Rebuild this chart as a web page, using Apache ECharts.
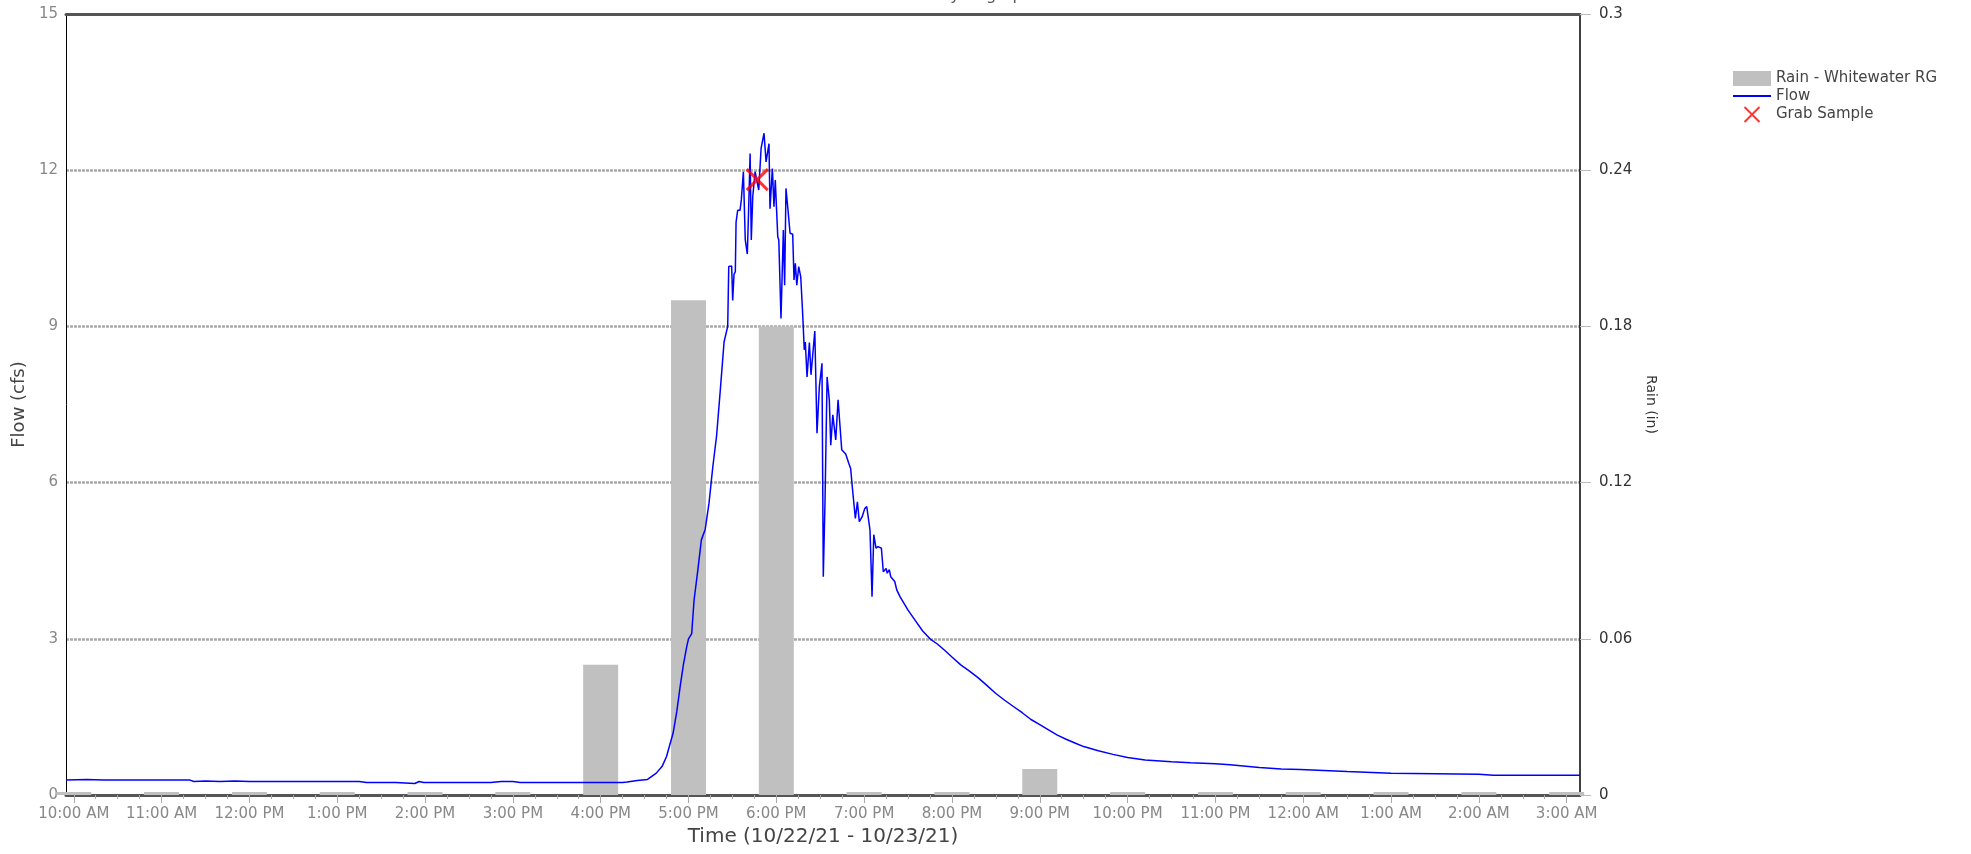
<!DOCTYPE html>
<html><head><meta charset="utf-8">
<script src="https://cdn.jsdelivr.net/npm/echarts@6/dist/echarts.min.js"></script>
<style>html,body{margin:0;padding:0;background:#fff}#c{width:1971px;height:854px}</style>
</head><body><div id="c"></div>
<script>
// Minutes after 10:00 AM on 10/22/21
const flowMinutes = [-5.3,9,20,40,60,79,82,90,100,110,120,130,150,170,195,200,220,233,236,239,250,270,285,292,300,305,330,360,375,378,385,392,398,402,405,409.5,412,414.3,416.5,418.8,420,422.2,423.8,426.3,428.8,431.4,434,436.6,439.2,441.8,444.3,446.8,447.5,449.5,450.2,451.1,452,452.5,453.6,455.2,456.1,457.5,458.2,458.8,460.2,461.2,462.1,462.9,463.9,465.5,466.6,468,469.6,471.6,473,475,475.7,477.3,478.4,479.3,481,481.7,483.2,484.8,485.7,486.6,488,489.4,491.2,492.1,493,494,495.3,496.7,498,499.1,499.8,501,502.6,503.7,506.3,507.8,509.4,511.2,512.1,513.3,514.7,516.2,517.2,518.6,520.6,522.2,524.7,527.4,529.5,530.8,531.9,534,535.4,536.7,538.6,540.4,541.8,544,545.4,546.6,548.1,549.5,551.8,553.1,555,555.8,557.2,558.2,559.5,560.9,562.3,564.5,570,575,580,585,590,595,600,606,612,618,624,630,636,642,648,654,660,666,672,678,684,690,700,710,720,732,750,763,780,790,810,825,838,870,900,930,960,970,1029.1];
const flowCfs = [0.29,0.30,0.29,0.29,0.29,0.29,0.26,0.27,0.26,0.27,0.26,0.26,0.26,0.26,0.26,0.24,0.24,0.22,0.26,0.24,0.24,0.24,0.24,0.26,0.26,0.24,0.24,0.24,0.24,0.25,0.28,0.30,0.42,0.55,0.74,1.19,1.6,2.08,2.5,2.85,3.0,3.1,3.74,4.3,4.9,5.1,5.6,6.3,6.9,7.8,8.7,9.0,10.15,10.16,9.5,10.0,10.05,11.0,11.23,11.23,11.43,11.97,11.97,10.66,10.39,11.36,12.32,10.66,11.49,11.97,11.94,11.62,12.42,12.71,12.16,12.51,11.26,12.03,11.3,11.81,10.72,10.66,9.15,10.85,9.79,11.65,11.23,10.79,10.77,9.89,10.21,9.79,10.15,9.95,9.25,8.55,8.7,8.03,8.69,8.07,8.91,6.95,7.84,8.29,4.19,5.67,8.03,7.59,6.72,7.3,6.82,7.59,6.63,6.55,6.37,6.27,5.92,5.31,5.63,5.25,5.34,5.5,5.54,5.09,3.81,5.0,4.74,4.77,4.74,4.29,4.35,4.26,4.33,4.19,4.22,4.1,3.94,3.81,3.55,3.35,3.15,3.0,2.9,2.78,2.65,2.5,2.38,2.25,2.1,1.95,1.82,1.7,1.58,1.45,1.35,1.25,1.15,1.07,1.0,0.93,0.85,0.78,0.72,0.67,0.64,0.62,0.6,0.58,0.53,0.5,0.49,0.45,0.42,0.41,0.40,0.38,0.38];
const rainMinutes = [0,60,120,180,240,300,360,420,480,540,600,660,720,780,840,900,960,1020];
const rainInches = [0,0,0,0,0,0,0.05,0.19,0.18,0,0,0.01,0,0,0,0,0,0];
const grabMinutes = [467];
const grabCfs = [11.82];
const xTickMinutes = [0,60,120,180,240,300,360,420,480,540,600,660,720,780,840,900,960,1020];
const xTickLabels = ['10:00 AM','11:00 AM','12:00 PM','1:00 PM','2:00 PM','3:00 PM','4:00 PM','5:00 PM','6:00 PM','7:00 PM','8:00 PM','9:00 PM','10:00 PM','11:00 PM','12:00 AM','1:00 AM','2:00 AM','3:00 AM'];
const titleText = 'Hydrograph';

const xMin = -5.3, xMax = 1029.1;
const minorTicks = [];
xTickMinutes.forEach(m => { [15,30,45].forEach(d => { if (m + d < xMax) minorTicks.push(m + d); }); });

const FONT = 'DejaVu Sans';
const chart = echarts.init(document.getElementById('c'), null, {renderer: 'canvas'});
chart.setOption({
  animation: false,
  textStyle: {fontFamily: FONT},
  title: {text: titleText, left: 'center', top: -17, textStyle: {fontFamily: FONT, fontSize: 16, fontWeight: 'normal', color: '#555'}},
  grid: {left: 66, right: 391, top: 14, bottom: 59, containLabel: false},
  legend: {
    orient: 'vertical', left: 1728, top: 66, itemWidth: 38, itemHeight: 15, itemGap: 2.5,
    textStyle: {fontFamily: FONT, fontSize: 15, color: '#444'},
    data: [
      {name: 'Rain - Whitewater RG', icon: 'rect'},
      {name: 'Flow', icon: 'path://M0,0L38,0L38,2L0,2Z'},
      {name: 'Grab Sample'}
    ]
  },
  xAxis: [
    {
      type: 'value', min: xMin, max: xMax, position: 'bottom',
      name: 'Time (10/22/21 - 10/23/21)', nameLocation: 'middle', nameGap: 32,
      nameTextStyle: {fontFamily: FONT, fontSize: 20, color: '#444'},
      axisLine: {show: true, onZero: false, lineStyle: {color: '#555', width: 3}},
      axisTick: {show: true, customValues: xTickMinutes, length: 8, lineStyle: {color: '#aaa'}},
      minorTick: {show: false},
      axisLabel: {
        customValues: xTickMinutes, margin: 12, fontFamily: FONT, fontSize: 15, color: '#888',
        formatter: v => { const i = xTickMinutes.indexOf(Math.round(v)); return i >= 0 ? xTickLabels[i] : ''; }
      },
      splitLine: {show: false}
    },
    {
      type: 'value', min: xMin, max: xMax, position: 'bottom',
      axisLine: {show: false, onZero: false},
      axisTick: {show: true, customValues: minorTicks, length: 4, lineStyle: {color: '#aaa'}},
      minorTick: {show: false},
      axisLabel: {show: false}, splitLine: {show: false}
    },
    {
      type: 'value', min: xMin, max: xMax, position: 'top',
      axisLine: {show: true, onZero: false, lineStyle: {color: '#555', width: 3}},
      axisTick: {show: false}, minorTick: {show: false}, axisLabel: {show: false}, splitLine: {show: false}
    }
  ],
  yAxis: [
    {
      type: 'value', min: 0, max: 15, interval: 3, position: 'left',
      name: 'Flow (cfs)', nameLocation: 'middle', nameGap: 29,
      nameTextStyle: {fontFamily: FONT, fontSize: 18, color: '#444'},
      axisLine: {show: true, onZero: false, lineStyle: {color: '#000', width: 1}},
      axisTick: {show: false}, minorTick: {show: false},
      axisLabel: {margin: 8, fontFamily: FONT, fontSize: 15, color: '#888'},
      splitLine: {show: true, lineStyle: {color: '#a9a9a9', width: 2.5, type: [3, 1]}}
    },
    {
      type: 'value', min: 0, max: 0.3, interval: 0.06, position: 'right',
      name: 'Rain (in)', nameLocation: 'middle', nameGap: 57, nameRotate: -90,
      nameTextStyle: {fontFamily: FONT, fontSize: 14, color: '#333'},
      axisLine: {show: true, onZero: false, lineStyle: {color: '#000', width: 1.5}},
      axisTick: {show: true, length: 11, lineStyle: {color: '#bbb'}},
      minorTick: {show: false},
      axisLabel: {margin: 19, fontFamily: FONT, fontSize: 15, color: '#333',
        formatter: v => String(parseFloat(v.toFixed(2)))},
      splitLine: {show: false}
    }
  ],
  series: [
    {
      name: 'Rain - Whitewater RG', type: 'bar', xAxisIndex: 0, yAxisIndex: 1,
      data: rainMinutes.map((m, i) => [m, rainInches[i]]),
      barWidth: 35, barMinHeight: 3, clip: true,
      itemStyle: {color: '#c0c0c0'}
    },
    {
      name: 'Flow', type: 'line', xAxisIndex: 0, yAxisIndex: 0,
      data: flowMinutes.map((m, i) => [m, flowCfs[i]]),
      showSymbol: false, symbol: 'none',
      lineStyle: {color: '#0000ff', width: 1.5},
      itemStyle: {color: '#0000ff'}, z: 3
    },
    {
      name: 'Grab Sample', type: 'scatter', xAxisIndex: 0, yAxisIndex: 0,
      data: grabMinutes.map((m, i) => [m, grabCfs[i]]),
      symbol: 'path://M0,0L10,10M10,0L0,10', symbolSize: 21,
      itemStyle: {color: 'rgba(0,0,0,0)', borderColor: '#ff0000', borderWidth: 3},
      z: 4
    }
  ]
});
</script></body></html>
